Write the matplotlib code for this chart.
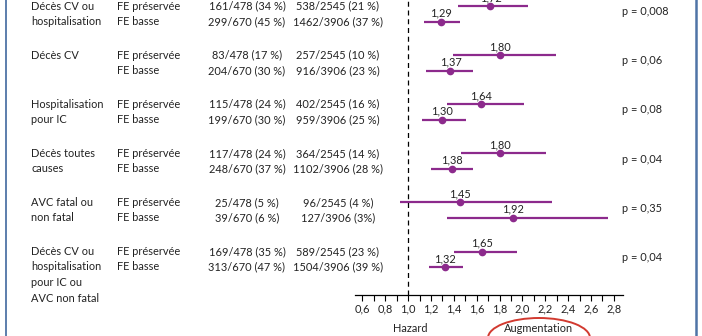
import numpy as np
import matplotlib
matplotlib.use('Agg')
import matplotlib.pyplot as plt
from matplotlib.patches import Ellipse
from matplotlib.lines import Line2D

plt.rcParams['font.family'] = ['Lato', 'DejaVu Sans']

# data
outcomes = [
    ['Décès CV ou', 'hospitalisation'],
    ['Décès CV'],
    ['Hospitalisation', 'pour IC'],
    ['Décès toutes', 'causes'],
    ['AVC fatal ou', 'non fatal'],
    ['Décès CV ou', 'hospitalisation', 'pour IC ou', 'AVC non fatal'],
]
groups = ['FE préservée', 'FE basse']
n_col1 = [
    ['161/478 (34 %)', '299/670 (45 %)'],
    ['83/478 (17 %)', '204/670 (30 %)'],
    ['115/478 (24 %)', '199/670 (30 %)'],
    ['117/478 (24 %)', '248/670 (37 %)'],
    ['25/478 (5 %)', '39/670 (6 %)'],
    ['169/478 (35 %)', '313/670 (47 %)'],
]
n_col2 = [
    ['538/2545 (21 %)', '1462/3906 (37 %)'],
    ['257/2545 (10 %)', '916/3906 (23 %)'],
    ['402/2545 (16 %)', '959/3906 (25 %)'],
    ['364/2545 (14 %)', '1102/3906 (28 %)'],
    ['96/2545 (4 %)', '127/3906 (3%)'],
    ['589/2545 (23 %)', '1504/3906 (39 %)'],
]
hr_pres = [1.72, 1.80, 1.64, 1.80, 1.45, 1.65]
lo_pres = [1.44, 1.39, 1.34, 1.46, 0.93, 1.40]
hi_pres = [2.05, 2.29, 2.01, 2.21, 2.26, 1.95]
hr_low = [1.29, 1.37, 1.30, 1.38, 1.92, 1.32]
lo_low = [1.14, 1.16, 1.12, 1.20, 1.34, 1.18]
hi_low = [1.45, 1.57, 1.51, 1.57, 2.75, 1.48]
pvals = ['p = 0,008', 'p = 0,06', 'p = 0,08', 'p = 0,04', 'p = 0,35', 'p = 0,04']
xticks = np.round(np.arange(0.6, 2.81, 0.2), 1)

W, H = 702, 336
purple = '#8c2a8c'
txt = '#222222'
fs = 7.9

fig = plt.figure(figsize=(W / 100, H / 100), dpi=100)

def fx(px):
    return px / W

def fy(py):
    return 1 - py / H

axis_y = 295
ax = fig.add_axes([fx(355), fy(axis_y), fx(623 - 355), axis_y / H])
ax.set_xlim(0.535, 2.88)
ax.set_ylim(axis_y, 0)

row0 = 6
gap = 49.1
sub = 15.5
for i in range(len(outcomes)):
    y1 = row0 + i * gap
    y2 = y1 + sub
    ax.hlines([y1, y2], [lo_pres[i], lo_low[i]], [hi_pres[i], hi_low[i]],
              color=purple, lw=1.6)
    ax.plot([hr_pres[i], hr_low[i]], [y1, y2], 'o', color=purple, ms=4.5)
    ax.text(hr_pres[i], y1 - 3, f'{hr_pres[i]:.2f}'.replace('.', ','),
            ha='center', va='bottom', fontsize=fs, color=txt)
    ax.text(hr_low[i], y2 - 3, f'{hr_low[i]:.2f}'.replace('.', ','),
            ha='center', va='bottom', fontsize=fs, color=txt)

    for k, line in enumerate(outcomes[i]):
        fig.text(fx(31), fy(y1 + k * sub), line, ha='left', va='center',
                 fontsize=fs, color=txt)
    for k, (g, a, b) in enumerate(zip(groups, n_col1[i], n_col2[i])):
        yy = y1 + k * sub
        fig.text(fx(117), fy(yy), g, ha='left', va='center', fontsize=fs, color=txt)
        fig.text(fx(247), fy(yy), a, ha='center', va='center', fontsize=fs, color=txt)
        fig.text(fx(338), fy(yy), b, ha='center', va='center', fontsize=fs, color=txt)
    fig.text(fx(622), fy((y1 + y2) / 2 - 2), pvals[i], ha='left', va='center',
             fontsize=fs, color=txt)

ax.axvline(1.0, color='black', lw=0.9, ls=(0, (4, 3)))

for s in ['top', 'right', 'left']:
    ax.spines[s].set_visible(False)
ax.spines['bottom'].set_linewidth(0.9)
ax.set_yticks([])
ax.set_xticks(xticks)
ax.set_xticklabels([f'{t:.1f}'.replace('.', ',') for t in xticks], fontsize=fs, color=txt)
ax.set_xticks(np.round(np.arange(0.7, 2.81, 0.2), 1), minor=True)
ax.tick_params(axis='x', which='both', length=4, width=0.8, pad=2)
ax.patch.set_alpha(0)

fig.text(fx(410), fy(328), 'Hazard', ha='center', va='center', fontsize=fs, color=txt)
fig.text(fx(539), fy(328), 'Augmentation', ha='center', va='center', fontsize=fs, color=txt)
ell = Ellipse((fx(539), fy(338)), fx(102), 40 / H, transform=fig.transFigure,
              fill=False, edgecolor='#d23a30', lw=1.4)
fig.add_artist(ell)

fig.add_artist(Line2D([fx(6), fx(6)], [0, 1], color='#4f74a6', lw=1.3))
fig.add_artist(Line2D([fx(695.5), fx(695.5)], [0, 1], color='#4f74a6', lw=1.8))

fig.savefig('out.png', dpi=100)
